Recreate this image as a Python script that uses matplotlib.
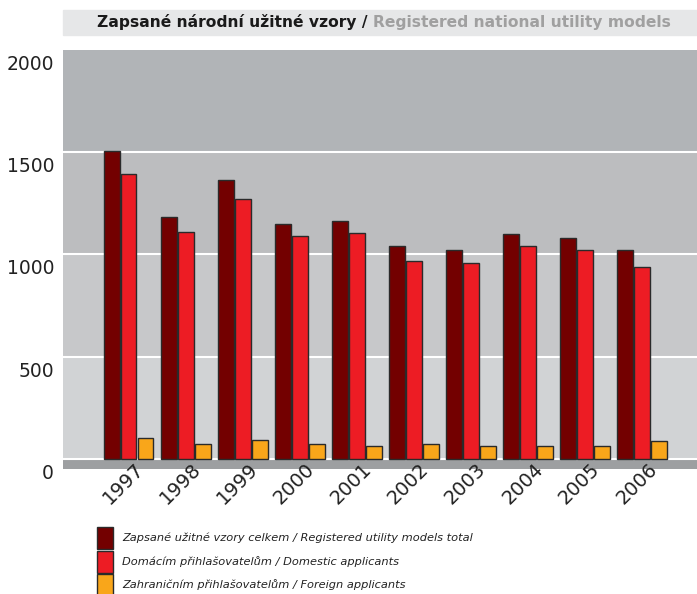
import matplotlib
matplotlib.use("Agg")
import matplotlib.pyplot as plt
import matplotlib.transforms as mtransforms
from matplotlib.patches import Rectangle
import numpy as np

years = ["1997", "1998", "1999", "2000", "2001", "2002", "2003", "2004", "2005", "2006"]
total = [1505, 1182, 1366, 1151, 1162, 1042, 1020, 1102, 1083, 1022]
domestic = [1395, 1112, 1273, 1090, 1104, 969, 959, 1040, 1020, 938]
foreign = [105, 73, 94, 75, 63, 75, 63, 63, 63, 88]
yticks = [0, 500, 1000, 1500, 2000]
series_labels = [
    "Zapsané užitné vzory celkem / Registered utility models total",
    "Domácím přihlašovatelům / Domestic applicants",
    "Zahraničním přihlašovatelům / Foreign applicants",
]
title_cz = "Zapsané národní užitné vzory / "
title_en = "Registered national utility models"

colors = ["#730000", "#ed1c24", "#f9a61a"]
band_colors = ["#d1d3d5", "#c7c8ca", "#bcbdbf", "#b1b4b7"]

plt.rcParams['font.family'] = ['DejaVu Sans']

W, H = 697, 594
fig = plt.figure(figsize=(W / 100, H / 100), dpi=100)
ax = fig.add_axes([63 / W, 125 / H, 1 - 63 / W, (544 - 125) / H])

x = np.arange(len(years))
ax.set_xlim(-1.149, 9.97)
ax.set_ylim(-49, 2000)

# background bands
for i in range(len(yticks) - 1):
    ax.axhspan(yticks[i], yticks[i + 1], color=band_colors[i], zorder=0, lw=0)
ax.axhspan(-49, 0, color="#9d9fa1", zorder=0, lw=0)
for v in yticks[:-1]:
    ax.axhline(v, color="white", lw=1.5, zorder=1)

bw = 0.28
step = 0.298
for k, (vals, c) in enumerate(zip([total, domestic, foreign], colors)):
    ax.bar(x + (k - 1) * step, vals, width=bw, color=c, edgecolor="#2a2a2a",
           linewidth=1.0, zorder=3)

for s in ax.spines.values():
    s.set_visible(False)
ax.set_xticks(x)
ax.set_xticklabels(years, rotation=45, ha="center", va="top", fontsize=14,
                   color="#222222")
ax.tick_params(axis="x", length=0, pad=-7)
for lbl in ax.get_xticklabels():
    lbl.set_transform(lbl.get_transform() + mtransforms.ScaledTranslation(-5 / 100, 0, fig.dpi_scale_trans))
ax.set_yticks([])

trans = mtransforms.blended_transform_factory(ax.transAxes, ax.transData)
off = mtransforms.ScaledTranslation(-9 / 100, -5 / 100, fig.dpi_scale_trans)
for v in yticks:
    ax.text(0, v, str(v), transform=trans + off, ha="right", va="top",
            fontsize=13.5, color="#222222")

# title band
fig.patches.append(Rectangle((63 / W, (594 - 35) / H), 1 - 63 / W, 25 / H,
                             transform=fig.transFigure, color="#e6e7e8", zorder=0))
t1 = fig.text(0.5, (594 - 22) / H, title_cz, fontsize=11.2, fontweight="bold",
              color="#1a1a1a", ha="left", va="center")
fig.canvas.draw()
r = fig.canvas.get_renderer()
w1 = t1.get_window_extent(r).width
t2 = fig.text(0.5, (594 - 22) / H, title_en, fontsize=11.2, fontweight="bold",
              color="#a0a0a0", ha="left", va="center")
w2 = t2.get_window_extent(r).width
cx = 384
start = cx - (w1 + w2) / 2
t1.set_x(start / W)
t2.set_x((start + w1) / W)

# legend
ys = [538, 562, 585]
for lab, c, yy in zip(series_labels, colors, ys):
    fig.patches.append(Rectangle((97 / W, (594 - yy - 11) / H), 16 / W, 22 / H,
                                 transform=fig.transFigure, facecolor=c,
                                 edgecolor="#2a2a2a", lw=1.0))
    fig.text(122 / W, (594 - yy) / H, lab, fontsize=8.2, style="italic",
             color="#222222", ha="left", va="center")

fig.savefig("out.png", dpi=100)
